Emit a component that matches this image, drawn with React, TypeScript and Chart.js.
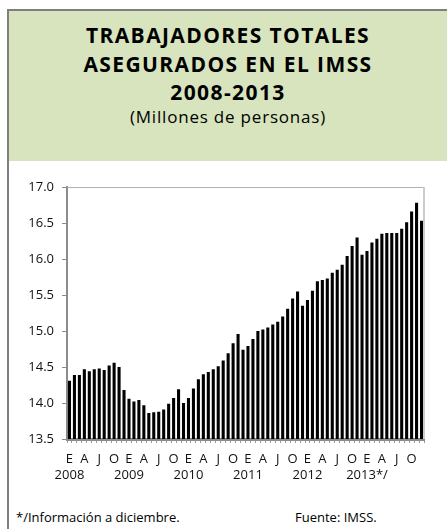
import React, { useEffect, useRef } from "react";
import { Chart, registerables } from "chart.js";

Chart.register(...registerables);

const years = ["2008", "2009", "2010", "2011", "2012", "2013*/"];
const monthLetters = ["E", "F", "M", "A", "M", "J", "J", "A", "S", "O", "N", "D"];
const shownMonths = [0, 3, 6, 9];

const values2008 = [14.31, 14.39, 14.39, 14.47, 14.44, 14.47, 14.48, 14.46, 14.52, 14.56, 14.5, 14.18];
const values2009 = [14.06, 14.02, 14.04, 13.97, 13.86, 13.87, 13.88, 13.91, 13.99, 14.07, 14.19, 14.0];
const values2010 = [14.07, 14.2, 14.33, 14.4, 14.43, 14.47, 14.51, 14.59, 14.69, 14.83, 14.96, 14.74];
const values2011 = [14.79, 14.89, 15.0, 15.02, 15.05, 15.09, 15.13, 15.2, 15.31, 15.45, 15.55, 15.35];
const values2012 = [15.43, 15.56, 15.69, 15.71, 15.73, 15.81, 15.85, 15.92, 16.04, 16.18, 16.3, 16.06];
const values2013 = [16.11, 16.23, 16.28, 16.35, 16.36, 16.36, 16.36, 16.42, 16.51, 16.66, 16.78, 16.53];

const yMin = 13.5;
const yMax = 17.0;
const yStep = 0.5;

const FONT = "'Open Sans', 'Noto Sans', sans-serif";

const frameBorder = {
  id: "frameBorder",
  afterDraw(chart: any) {
    const { ctx, chartArea } = chart;
    ctx.save();
    ctx.strokeStyle = "#b0b0b0";
    ctx.lineWidth = 1;
    ctx.beginPath();
    ctx.moveTo(chartArea.left, chartArea.top + 0.5);
    ctx.lineTo(chartArea.right, chartArea.top + 0.5);
    ctx.stroke();
    ctx.strokeStyle = "#cccccc";
    ctx.lineWidth = 2;
    ctx.beginPath();
    ctx.moveTo(chartArea.right, chartArea.top);
    ctx.lineTo(chartArea.right, chartArea.bottom);
    ctx.stroke();
    ctx.restore();
  },
};

export default function App() {
  const canvasRef = useRef<HTMLCanvasElement | null>(null);

  useEffect(() => {
    const allValues = [
      ...values2008,
      ...values2009,
      ...values2010,
      ...values2011,
      ...values2012,
      ...values2013,
    ];
    const labels: string[] = [];
    years.forEach((y) => monthLetters.forEach((m) => labels.push(m + " " + y)));

    const chart = new Chart(canvasRef.current as HTMLCanvasElement, {
      type: "bar",
      data: {
        labels,
        datasets: [
          {
            data: allValues,
            backgroundColor: "#000000",
            borderWidth: 0,
            barPercentage: 0.62,
            categoryPercentage: 1,
          },
        ],
      },
      plugins: [frameBorder],
      options: {
        animation: false,
        responsive: true,
        maintainAspectRatio: false,
        layout: { padding: { top: 25, right: 23, left: 0, bottom: 0 } },
        plugins: {
          legend: { display: false },
          tooltip: { enabled: false },
          title: { display: false },
        },
        scales: {
          x: {
            grid: {
              drawOnChartArea: false,
              drawTicks: true,
              tickLength: 4,
              color: "#9a9a9a",
              lineWidth: 1,
            },
            border: { display: true, color: "#8c8c8c", width: 3 },
            ticks: {
              autoSkip: false,
              maxRotation: 0,
              minRotation: 0,
              padding: 8,
              color: "#111",
              font: { family: FONT, size: 13, lineHeight: 1.25 },
              callback: (_v: any, i: number) => {
                const m = i % 12;
                if (!shownMonths.includes(m)) return "";
                if (m === 0) return [monthLetters[m], years[Math.floor(i / 12)]];
                return monthLetters[m];
              },
            },
            afterFit: (scale: any) => {
              scale.height = 61;
            },
          },
          y: {
            min: yMin,
            max: yMax,
            grid: {
              drawOnChartArea: false,
              drawTicks: true,
              tickLength: 5,
              color: "#8c8c8c",
            },
            border: { display: true, color: "#8c8c8c", width: 2 },
            ticks: {
              stepSize: yStep,
              padding: 8,
              color: "#111",
              font: { family: FONT, size: 13 },
              callback: (v: any) => Number(v).toFixed(1),
            },
            afterFit: (scale: any) => {
              scale.width = 58;
            },
          },
        },
      },
    });
    return () => chart.destroy();
  }, []);

  return (
    <div
      style={{
        position: "absolute",
        left: 0,
        top: 0,
        width: 447,
        height: 529,
        overflow: "hidden",
        background: "#fff",
        fontFamily: FONT,
        color: "#000",
      }}
    >
      <div
        style={{
          position: "absolute",
          left: 7,
          top: 9,
          width: 460,
          height: 560,
          borderLeft: "2px solid #7f7f7f",
          borderTop: "2px solid #7f7f7f",
        }}
      />
      <div
        style={{
          position: "absolute",
          left: 9,
          top: 11,
          width: 438,
          height: 150,
          background: "#d7e4bd",
          textAlign: "center",
        }}
      >
        <div
          style={{
            position: "absolute",
            left: 0,
            right: 0,
            top: 10,
            fontWeight: 700,
            fontSize: 21,
            lineHeight: "28.5px",
            letterSpacing: "1.4px",
            whiteSpace: "nowrap",
          }}
        >
          TRABAJADORES TOTALES
          <br />
          ASEGURADOS EN EL IMSS
          <br />
          2008-2013
        </div>
        <div
          style={{
            position: "absolute",
            left: 0,
            right: 0,
            top: 95,
            fontSize: 17,
            lineHeight: "22px",
            letterSpacing: "0.8px",
            whiteSpace: "nowrap",
          }}
        >
          (Millones de personas)
        </div>
      </div>
      <div style={{ position: "absolute", left: 9, top: 162, width: 438, height: 338 }}>
        <canvas ref={canvasRef} />
      </div>
      <div style={{ position: "absolute", left: 16, top: 508, fontSize: 13, lineHeight: "18px" }}>
        */Información a diciembre.
      </div>
      <div style={{ position: "absolute", left: 295, top: 508, fontSize: 13, lineHeight: "18px" }}>
        Fuente: IMSS.
      </div>
    </div>
  );
}
